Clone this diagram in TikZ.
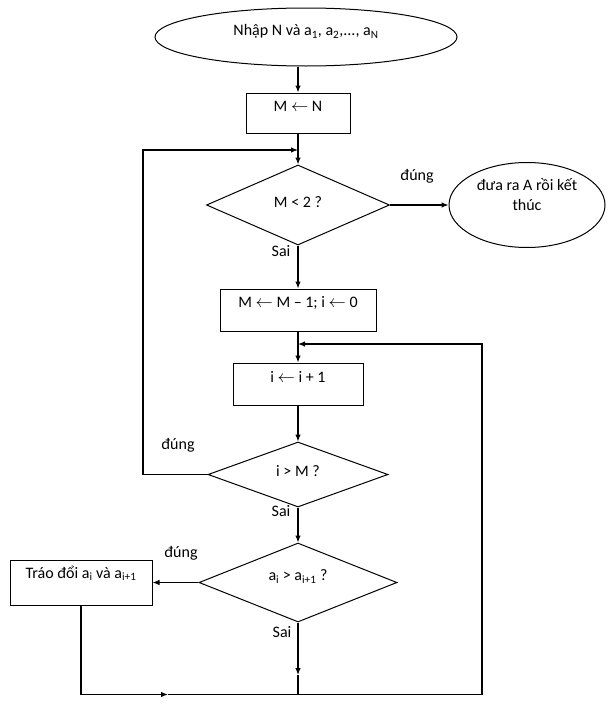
\documentclass[tikz,border=0pt]{standalone}
\usepackage{fontspec}
\setmainfont{Carlito}
\usetikzlibrary{shapes,arrows,arrows.meta,positioning}
\tikzset{basic/.style={draw,line width=1pt,text height=10pt,inner sep=0pt}}
\tikzset{io/.style={basic,ellipse}}
\tikzset{proc/.style={basic,rectangle}}
\tikzset{cond/.style={basic,diamond,aspect=2.3}}
\tikzset{arrow/.style={draw,line width=1.2pt}}
\tikzset{lbl/.style={inner sep=0pt}}

\begin{document}
\begin{tikzpicture}[x=1pt,y=-1pt,>={Latex[length=7pt,width=5.5pt]},font=\fontsize{16}{20}\selectfont]
    \useasboundingbox (0,0) rectangle (611,704);

    \node[io,minimum width=302pt,minimum height=58pt,text depth=13pt] (input) at (306,37) {Nhập N và a\textsubscript{1}, a\textsubscript{2},..., a\textsubscript{N}};
    \node[proc,minimum width=104pt,minimum height=40pt,text depth=13pt] (mn) at (298,113) {M $\leftarrow$ N};
    \node[cond,below of=mn,node distance=92pt,minimum width=183pt,minimum height=80pt,text depth=6pt] (check) {M < 2 ?};
    \node[io,right of=check,node distance=229pt,minimum width=156pt,minimum height=85pt,align=center,text height={},text depth=22pt] (output) {đưa ra A rồi kết\\thúc};
    \node[proc,below of=check,node distance=105pt,minimum width=156pt,minimum height=42pt,text depth=16pt] (dec) {M $\leftarrow$ M -- 1; i $\leftarrow$ 0};
    \node[proc,below of=dec,node distance=74pt,minimum width=130pt,minimum height=42pt,text depth=14pt] (inc) {i $\leftarrow$ i + 1};
    \node[cond,below of=inc,node distance=90.5pt,minimum width=180pt,minimum height=65pt,text depth=7pt] (iloop) {i > M ?};
    \node[cond,below of=iloop,node distance=108pt,minimum width=198pt,minimum height=79pt,text depth=14pt] (cmp) {a\textsubscript{i} > a\textsubscript{i+1} ?};
    \node[proc,left of=cmp,node distance=217pt,minimum width=142pt,minimum height=45pt,text depth=19pt] (swap) {Tráo đổi a\textsubscript{i} và a\textsubscript{i+1}};

    \node[lbl] (yes1) at (417,176) {đúng};
    \node[lbl] (no1) at (281,251) {Sai};
    \node[lbl] (yes2) at (178,445) {đúng};
    \node[lbl] (no2) at (281,511) {Sai};
    \node[lbl] (yes3) at (181,553) {đúng};
    \node[lbl] (no3) at (282,632) {Sai};

    \coordinate (join1) at (298,150);
    \coordinate (lcorner) at (143,150);
    \coordinate (join2) at (298,344);
    \coordinate (rcorner) at (482,694.5);
    \coordinate (mark) at (168,694.5);
    \coordinate (cmpdown) at (298,675);

        \path[arrow,->] (input.south -| mn) -- (mn);
        \path[arrow,->] (mn) -- (check);
        \path[arrow,->] (check) -- (output);
        \path[arrow,->] (check) -- (dec);
        \path[arrow,->] (dec) -- (inc);
        \path[arrow,->] (inc) -- (iloop);
        \path[arrow,->] (iloop) -- (cmp);
        \path[arrow,->] (cmp) -- (swap);
        \path[arrow,->] (cmp) -- (cmpdown);
        \path[arrow] (cmpdown) -- (cmpdown |- rcorner);
        \path[arrow,->] (iloop.west) -| (lcorner) -- (join1);
        \path[arrow,->] (swap.south) |- (mark);
        \path[arrow,->] (mark) -- (rcorner) |- (join2);
\end{tikzpicture}
\end{document}
